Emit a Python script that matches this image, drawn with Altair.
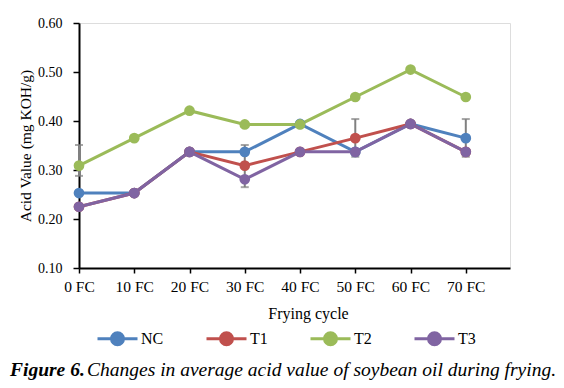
import altair as alt
import pandas as pd

cycles = [0, 10, 20, 30, 40, 50, 60, 70]
series = ["NC", "T1", "T2", "T3"]
colors = ["#4F81BD", "#C0504D", "#9BBB59", "#8064A2"]
nc = [0.253, 0.253, 0.337, 0.337, 0.394, 0.337, 0.394, 0.365]
t1 = [0.225, 0.253, 0.337, 0.309, 0.337, 0.365, 0.394, 0.337]
t2 = [0.309, 0.365, 0.421, 0.393, 0.393, 0.449, 0.505, 0.449]
t3 = [0.225, 0.253, 0.337, 0.281, 0.337, 0.337, 0.394, 0.337]

err_cycle = [0, 30, 50, 70]
err_low = [0.288, 0.265, 0.327, 0.327]
err_high = [0.351, 0.351, 0.404, 0.404]

rows = []
for name, vals in zip(series, [nc, t1, t2, t3]):
    for c, v in zip(cycles, vals):
        rows.append({"cycle": c, "series": name, "value": v})
df = pd.DataFrame(rows)
err = pd.DataFrame({"cycle": err_cycle, "low": err_low, "high": err_high})

FONT = "Liberation Serif"
x = alt.X("cycle:Q", scale=alt.Scale(domain=[0, 78], nice=False),
          axis=alt.Axis(values=cycles, labelExpr="datum.value + ' FC'", title="Frying cycle",
                        grid=False, domainColor="black", domainWidth=2, tickColor="black",
                        tickWidth=1.5, tickSize=5, labelPadding=6, labelFontSize=15.5,
                        labelFont=FONT, labelColor="black", titleFont=FONT, titleFontSize=16,
                        titleFontWeight="normal", titleColor="black", titlePadding=11,
                        titleX=229, labelFlush=False))
y = alt.Y("value:Q", scale=alt.Scale(domain=[0.1, 0.6], nice=False),
          axis=alt.Axis(values=[0.1, 0.2, 0.3, 0.4, 0.5, 0.6], format=".2f",
                        title="Acid Value (mg KOH/g)", grid=False, domainColor="black",
                        domainWidth=2, tickColor="black", tickWidth=1.5, tickSize=6,
                        labelPadding=11, labelFontSize=14, labelFont=FONT, labelColor="black",
                        titleFont=FONT, titleFontSize=15.5, titleFontWeight="normal",
                        titleColor="black", titlePadding=4))

path = "M-2,0L2,0M-0.6,0A0.6,0.6 0 1,0 0.6,0A0.6,0.6 0 1,0 -0.6,0Z"
leg = alt.Legend(title=None, orient="none", legendX=27, legendY=304, direction="horizontal",
                 columns=4, gridAlign="each",
                 symbolType=path, symbolSize=400, symbolStrokeWidth=3, labelOffset=12,
                 columnPadding=36, labelFont=FONT, labelFontSize=16, labelColor="black",
                 padding=0)

errbars = alt.Chart(err).mark_rule(color="#808080", strokeWidth=2).encode(
    x=x, y=alt.Y("low:Q", scale=alt.Scale(domain=[0.1, 0.6], nice=False)), y2="high:Q")
caps_low = alt.Chart(err).mark_tick(color="#808080", thickness=2, size=8, orient="horizontal").encode(
    x="cycle:Q", y="low:Q")
caps_high = alt.Chart(err).mark_tick(color="#808080", thickness=2, size=8, orient="horizontal").encode(
    x="cycle:Q", y="high:Q")

lines = alt.Chart(df).mark_line(strokeWidth=3).encode(
    x=x, y=y,
    stroke=alt.Stroke("series:N", scale=alt.Scale(domain=series, range=colors), legend=leg),
    order="cycle:Q")
points = alt.Chart(df).mark_circle(size=115, opacity=1).encode(
    x=x, y=y,
    fill=alt.Fill("series:N", scale=alt.Scale(domain=series, range=colors), legend=leg))

cap1 = alt.Chart(pd.DataFrame({"t": ["Figure 6."]})).mark_text(
    font=FONT, fontSize=19.5, fontStyle="italic", fontWeight="bold", align="left",
    baseline="alphabetic", color="black").encode(text="t:N", x=alt.value(-69), y=alt.value(353))
cap2 = alt.Chart(pd.DataFrame({"t": ["Changes in average acid value of soybean oil during frying."]})).mark_text(
    font=FONT, fontSize=19.5, fontStyle="italic", align="left",
    baseline="alphabetic", color="black").encode(text="t:N", x=alt.value(8), y=alt.value(353))

chart = alt.layer(errbars, caps_low, caps_high, lines, points, cap1, cap2).properties(
    width=431, height=245, autosize=alt.AutoSizeParams(type="none"),
    padding={"left": 71, "top": 15, "right": 46, "bottom": 112}
).configure_view(stroke=None).configure(background="white")

chart.save("out.html", embed_options={"renderer": "svg", "actions": False})
